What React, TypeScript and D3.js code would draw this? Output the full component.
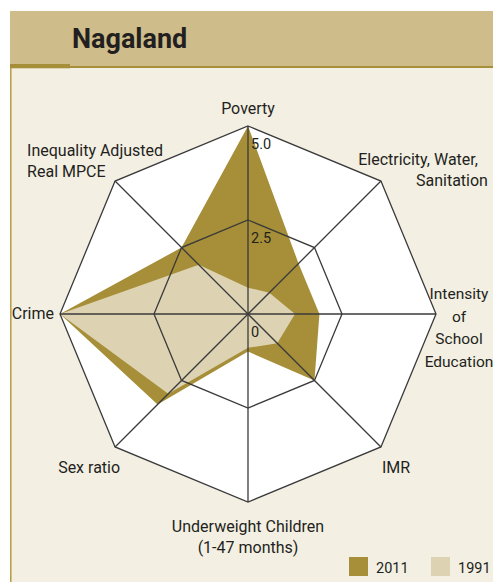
import React from "react";
import * as d3 from "d3";

// ---- data ----
const axisNames = [
  "Poverty",
  "Electricity, Water, Sanitation",
  "Intensity of School Education",
  "IMR",
  "Underweight Children (1-47 months)",
  "Sex ratio",
  "Crime",
  "Inequality Adjusted Real MPCE",
];
const axisLabelLines = [
  ["Poverty"],
  ["Electricity, Water,", "Sanitation"],
  ["Intensity", "of", "School", "Education"],
  ["IMR"],
  ["Underweight Children", "(1-47 months)"],
  ["Sex ratio"],
  ["Crime"],
  ["Inequality Adjusted", "Real MPCE"],
];
const values2011 = [5.0, 1.9, 1.9, 2.5, 1.0, 3.4, 5.0, 2.5];
const values1991 = [0.7, 0.8, 1.25, 1.1, 0.9, 3.0, 5.0, 1.85];
const ringValues = [2.5, 5.0];
const tickValues = [0, 2.5, 5.0];
const tickLabels = ["0", "2.5", "5.0"];
const seriesNames = ["2011", "1991"];
const title = "Nagaland";

// ---- layout / style ----
const W = 493;
const H = 582;
const cx = 248;
const cy = 314;
const R = 188;
const C2011 = "#a68f38";
const C1991 = "#ddd3b3";
const TEXT = "#231f20";
const GRID = "#3a3a3a";
const FONT = "Roboto, 'Open Sans', sans-serif";

// label layout: anchor position relative to the axis vertex, per-line x shifts
const labelLayout = [
  { dx: 0, dy: -12, anchor: "middle", lh: 21, lineDx: [0], fs: 16 },
  { dx: 97, dy: -16, anchor: "end", lh: 21, lineDx: [0, 10], fs: 16 },
  { dx: 23, dy: -15, anchor: "middle", lh: 22.5, lineDx: [0, 0, 0, 0], fs: 15.5 },
  { dx: 1, dy: 26, anchor: "start", lh: 21, lineDx: [0], fs: 16 },
  { dx: 0, dy: 30, anchor: "middle", lh: 21, lineDx: [0, 0], fs: 16 },
  { dx: 5, dy: 26, anchor: "end", lh: 21, lineDx: [0], fs: 16 },
  { dx: -6, dy: 5, anchor: "end", lh: 21, lineDx: [0], fs: 16 },
  { dx: -88, dy: -25, anchor: "start", lh: 20.5, lineDx: [0, 0], fs: 16 },
];

export default function App() {
  const n = axisNames.length;
  const r = d3.scaleLinear().domain([0, 5]).range([0, R]);
  const angle = d3
    .scaleLinear()
    .domain([0, n])
    .range([0, 2 * Math.PI]);

  const radial = d3
    .lineRadial<number>()
    .angle((_, i) => angle(i))
    .radius((d) => r(d))
    .curve(d3.curveLinearClosed);

  const pt = (i: number, v: number): [number, number] => {
    const a = angle(i);
    return [r(v) * Math.sin(a), -r(v) * Math.cos(a)];
  };

  const ringPath = (v: number) => radial(axisNames.map(() => v)) || "";

  return (
    <svg
      width={W}
      height={H}
      style={{ position: "absolute", left: 0, top: 0, background: "#fff" }}
      fontFamily={FONT}
    >
      <rect x={0} y={0} width={W} height={H} fill="#ffffff" />
      {/* header */}
      <rect x={10} y={11} width={W - 10} height={57} fill="#cebd8a" />
      <rect x={10} y={68} width={W - 10} height={H - 68} fill="#f3efe3" />
      <line x1={10} x2={W} y1={67} y2={67} stroke={C2011} strokeWidth={1.8} />
      <rect x={10} y={64} width={60} height={4.3} fill={C2011} />
      <line x1={10.8} x2={10.8} y1={68} y2={H} stroke="#b9a14a" strokeWidth={1.6} />
      <text x={72} y={48} fontSize={27} fontWeight={700} fill={TEXT}>
        {title}
      </text>

      <g transform={`translate(${cx},${cy})`}>
        {/* outer white area */}
        <path d={ringPath(5)} fill="#ffffff" />
        {/* series */}
        <path d={radial(values2011) || ""} fill={C2011} />
        <path d={radial(values1991) || ""} fill={C1991} />
        {/* grid */}
        {ringValues.map((v) => (
          <path key={v} d={ringPath(v)} fill="none" stroke={GRID} strokeWidth={1.3} />
        ))}
        {axisNames.map((name, i) => {
          const [x, y] = pt(i, 5);
          return <line key={name} x1={0} y1={0} x2={x} y2={y} stroke={GRID} strokeWidth={1.3} />;
        })}
        {/* tick labels */}
        {tickValues.map((v, i) => (
          <text key={v} x={3} y={-r(v) + 23} fontSize={14.5} fill={TEXT}>
            {tickLabels[i]}
          </text>
        ))}
        {/* axis labels */}
        {axisLabelLines.map((lines, i) => {
          const [x, y] = pt(i, 5);
          const L = labelLayout[i];
          return (
            <text key={i} fontSize={L.fs} fill={TEXT} textAnchor={L.anchor}>
              {lines.map((ln, j) => (
                <tspan key={j} x={x + L.dx + L.lineDx[j]} y={y + L.dy + j * L.lh}>
                  {ln}
                </tspan>
              ))}
            </text>
          );
        })}
      </g>

      {/* legend */}
      {seriesNames.map((s, i) => (
        <g key={s} transform={`translate(${349 + i * 82},557)`}>
          <rect x={0} y={0} width={19} height={19} fill={i === 0 ? C2011 : C1991} />
          <text x={27} y={15.5} fontSize={14.5} fill={TEXT}>
            {s}
          </text>
        </g>
      ))}
    </svg>
  );
}
